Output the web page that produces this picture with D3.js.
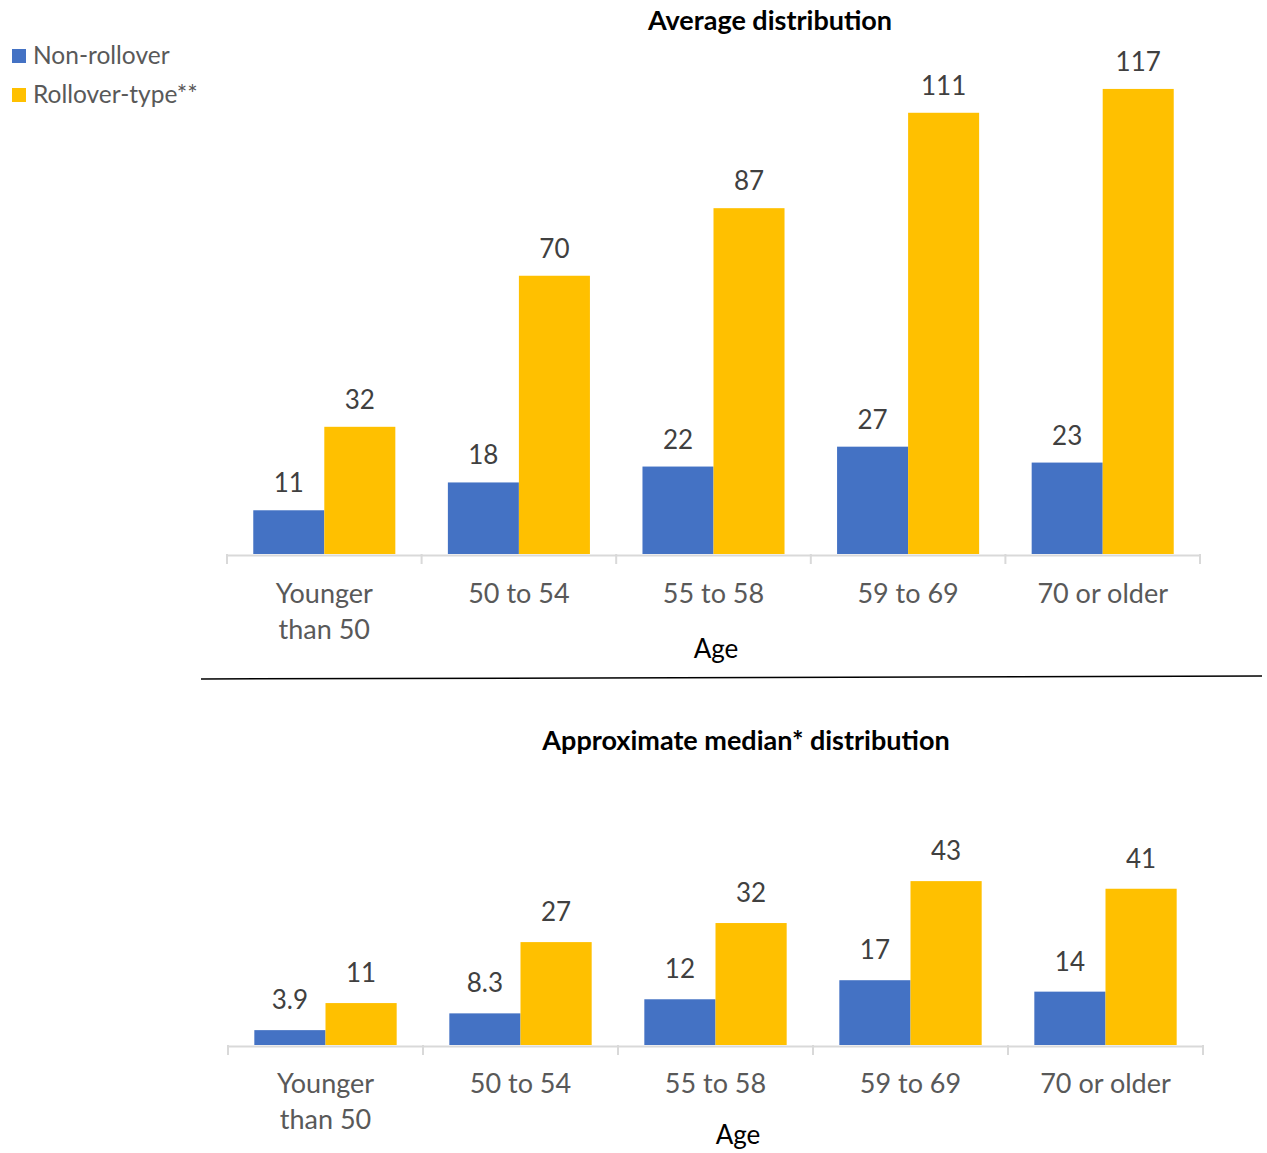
<!DOCTYPE html>
<html><head><meta charset="utf-8">
<script src="https://cdn.jsdelivr.net/npm/d3@7"></script>
<style>body{margin:0;background:#fff}svg{display:block}text{font-family:Lato,"Open Sans",sans-serif}</style>
</head><body><svg id="c" width="1267" height="1153"></svg>
<script>
const categories = ["Younger than 50","50 to 54","55 to 58","59 to 69","70 or older"];
const categoryLines = [["Younger","than 50"],["50 to 54"],["55 to 58"],["59 to 69"],["70 or older"]];
const seriesNames = ["Non-rollover","Rollover-type**"];
const colors = ["#4472C4","#FFC000"];
const avgNonRollover = [11,18,22,27,23];
const avgRollover = [32,70,87,111,117];
const medNonRollover = [3.9,8.3,12,17,14];
const medRollover = [11,27,32,43,41];
const avgLabels = ["11","18","22","27","23"];
const avgLabelsR = ["32","70","87","111","117"];
const medLabels = ["3.9","8.3","12","17","14"];
const medLabelsR = ["11","27","32","43","41"];

const svg = d3.select("#c");

function panel(cfg){
  const g = svg.append("g");
  const x0 = d3.scaleBand().domain(categories).range([cfg.x0, cfg.x1]).paddingInner(0).paddingOuter(0);
  const groupW = x0.bandwidth()*0.73;
  const x1 = d3.scaleBand().domain(seriesNames).range([0, groupW]);
  const y = d3.scaleLinear().domain([0, cfg.ymax]).range([cfg.base, cfg.top]);
  const rows = categories.map((c,i)=>({c, vals:[cfg.a[i], cfg.b[i]], labs:[cfg.la[i], cfg.lb[i]], lines: categoryLines[i]}));
  const grp = g.selectAll("g.grp").data(rows).join("g")
    .attr("transform", d=>`translate(${x0(d.c)+(x0.bandwidth()-groupW)/2},0)`);
  grp.selectAll("rect").data(d=>d.vals.map((v,k)=>({v,k,s:seriesNames[k]}))).join("rect")
    .attr("x", d=>x1(d.s)).attr("width", x1.bandwidth())
    .attr("y", d=>y(d.v)).attr("height", d=>cfg.base-y(d.v))
    .attr("fill", d=>colors[d.k]);
  grp.selectAll("text.lab").data(d=>d.vals.map((v,k)=>({v,k,s:seriesNames[k],t:d.labs[k]}))).join("text")
    .attr("class","lab")
    .attr("x", d=>x1(d.s)+x1.bandwidth()/2).attr("y", d=>y(d.v)-cfg.labOff)
    .attr("text-anchor","middle").attr("font-size",26).attr("fill","#404040").text(d=>d.t);
  // axis
  const ax = g.append("g").attr("transform",`translate(0,${cfg.base+1})`)
    .call(d3.axisBottom(x0).tickSize(0).tickFormat(""));
  ax.select(".domain").attr("stroke","#d9d9d9").attr("stroke-width",2);
  const bounds = categories.map(c=>x0(c)).concat([cfg.x1]);
  g.selectAll("line.tk").data(bounds).join("line")
    .attr("x1",d=>d).attr("x2",d=>d).attr("y1",cfg.base).attr("y2",cfg.base+10)
    .attr("stroke","#d9d9d9").attr("stroke-width",2);
  // category labels
  const cl = g.selectAll("text.cat").data(rows).join("text").attr("class","cat")
    .attr("text-anchor","middle").attr("font-size",27).attr("fill","#595959");
  cl.each(function(d){
    d3.select(this).selectAll("tspan").data(d.lines).join("tspan")
      .attr("x", x0(d.c)+x0.bandwidth()/2)
      .attr("y",(t,j)=>cfg.base+cfg.catOff+j*36).text(t=>t);
  });
  g.append("text").attr("x",cfg.ageX).attr("y",cfg.ageY).attr("text-anchor","middle")
    .attr("font-size",26).attr("fill","#000").text("Age");
  g.append("text").attr("x",cfg.titleX).attr("y",cfg.titleY).attr("text-anchor","middle")
    .attr("font-size",27).attr("font-weight","bold").attr("fill","#000").text(cfg.title);
}

panel({x0:227,x1:1200,base:554,top:77,ymax:120,a:avgNonRollover,b:avgRollover,la:avgLabels,lb:avgLabelsR,
  labOff:18,catOff:49,ageX:716,ageY:658,titleX:770,titleY:30,title:"Average distribution"});
panel({x0:228,x1:1203,base:1045,top:873.5,ymax:45,a:medNonRollover,b:medRollover,la:medLabels,lb:medLabelsR,
  labOff:21,catOff:48,ageX:738,ageY:1144,titleX:746,titleY:750,title:"Approximate median* distribution"});

// separator
svg.append("line").attr("x1",201).attr("y1",679).attr("x2",1262).attr("y2",676)
  .attr("stroke","#000").attr("stroke-width",1.5);

// legend
const lg = svg.append("g").selectAll("g").data(seriesNames).join("g")
  .attr("transform",(d,i)=>`translate(12,${49+i*39})`);
lg.append("rect").attr("width",14).attr("height",14).attr("fill",(d,i)=>colors[i]);
lg.append("text").attr("x",21).attr("y",15).attr("font-size",24.5).attr("fill","#595959").text(d=>d);
</script></body></html>
